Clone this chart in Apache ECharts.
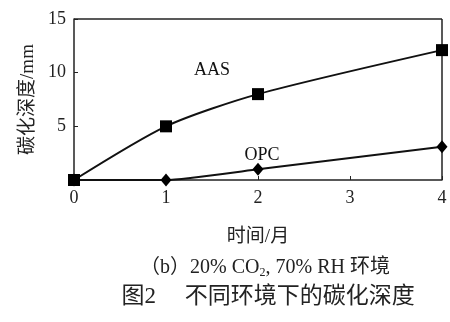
<!DOCTYPE html>
<html>
<head>
<meta charset="utf-8">
<script src="https://cdn.jsdelivr.net/npm/echarts@6/dist/echarts.min.js"></script>
<style>
  html, body { margin: 0; padding: 0; background: #fff; }
  #chart { width: 450px; height: 322px; }
</style>
</head>
<body>
<div id="chart"></div>
<script>
// Carbonation depth over time (20% CO2, 70% RH)
const months = [0, 1, 2, 4];
const aasDepth = [0, 5, 8, 12.1];
const opcDepth = [0, 0, 1, 3.1];
const xTicks = [0, 1, 2, 3, 4];
const yTicks = [5, 10, 15];

const serif = '"Liberation Serif", "Times New Roman", serif';
const cjk = '"Liberation Serif", "Noto Sans CJK SC", serif';

const chart = echarts.init(document.getElementById('chart'));
chart.setOption({
  animation: false,
  grid: { left: 74, right: 8, top: 19, bottom: 142, containLabel: false, outerBoundsMode: 'none' },
  xAxis: {
    type: 'value', min: 0, max: 4, interval: 1,
    axisLine: { show: true, lineStyle: { color: '#222', width: 1.5 } },
    axisTick: { show: true, inside: true, length: 4, lineStyle: { color: '#222' } },
    axisLabel: { color: '#222', fontFamily: serif, fontSize: 18, margin: 9,
      formatter: v => xTicks.includes(v) ? String(v) : '' },
    splitLine: { show: false },
    name: '时间/月', nameLocation: 'middle', nameGap: 48,
    nameTextStyle: { color: '#222', fontFamily: cjk, fontSize: 19 }
  },
  yAxis: {
    type: 'value', min: 0, max: 15, interval: 5,
    axisLine: { show: true, lineStyle: { color: '#222', width: 1.5 } },
    axisTick: { show: true, inside: true, length: 4, lineStyle: { color: '#222' } },
    axisLabel: { color: '#222', fontFamily: serif, fontSize: 18, margin: 8,
      formatter: v => yTicks.includes(v) ? String(v) : '' },
    splitLine: { show: false },
    name: '碳化深度/mm', nameLocation: 'middle', nameGap: 36,
    nameTextStyle: { color: '#222', fontFamily: cjk, fontSize: 19 }
  },
  series: [
    {
      name: 'AAS', type: 'line', smooth: 0.25,
      data: months.map((m, i) => [m, aasDepth[i]]),
      symbol: 'rect', symbolSize: 12,
      itemStyle: { color: '#000' },
      lineStyle: { color: '#111', width: 2 }
    },
    {
      name: 'OPC', type: 'line', smooth: 0.15,
      data: months.map((m, i) => [m, opcDepth[i]]),
      symbol: 'diamond', symbolSize: [11, 13],
      itemStyle: { color: '#000' },
      lineStyle: { color: '#111', width: 2 }
    }
  ],
  graphic: [
    // frame top and right edges
    { type: 'line', shape: { x1: 74, y1: 19, x2: 442, y2: 19 }, style: { stroke: '#222', lineWidth: 1.5 } },
    { type: 'line', shape: { x1: 442, y1: 19, x2: 442, y2: 180 }, style: { stroke: '#222', lineWidth: 1.5 } },
    { type: 'text', x: 212, y: 70, style: { text: 'AAS', fill: '#111', font: '18px ' + serif, align: 'center', verticalAlign: 'middle' } },
    { type: 'text', x: 262, y: 155, style: { text: 'OPC', fill: '#111', font: '18px ' + serif, align: 'center', verticalAlign: 'middle' } },
    {
      type: 'text', x: 265, y: 268,
      style: {
        text: '{a|（b）20% CO}{s|2}{a|, 70% RH 环境}',
        align: 'center', verticalAlign: 'middle',
        rich: {
          a: { font: '20px ' + cjk, fill: '#222' },
          s: { font: '12px ' + serif, fill: '#222', padding: [10, 0, 0, 0] }
        }
      }
    },
    { type: 'text', x: 268, y: 297, style: { text: '图2     不同环境下的碳化深度', fill: '#222', font: '23px ' + cjk, align: 'center', verticalAlign: 'middle' } }
  ]
});
</script>
</body>
</html>
